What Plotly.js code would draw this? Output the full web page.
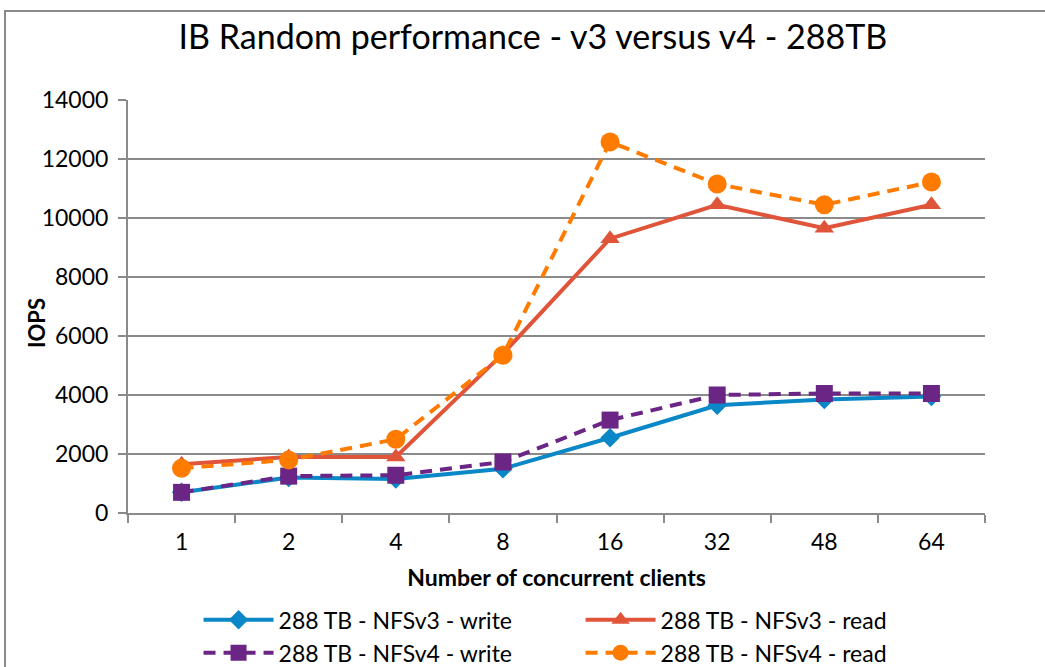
<!DOCTYPE html>
<html><head><meta charset="utf-8">
<script src="https://cdn.plot.ly/plotly-3.0.1.min.js"></script>
<style>html,body{margin:0;padding:0;background:#fff;}#wrap{position:relative;width:1045px;height:667px;}
#frame{position:absolute;left:4px;top:10px;width:1100px;height:700px;border-left:2px solid #8a8a8a;border-top:2px solid #8a8a8a;pointer-events:none;}
#chart{position:absolute;left:0;top:0;width:1045px;height:667px;}</style>
</head><body>
<div id="wrap"><div id="chart"></div><div id="frame"></div></div>
<script>
const categories = ["1","2","4","8","16","32","48","64"];
const nfsv3Write = [700, 1200, 1150, 1500, 2550, 3650, 3850, 3950];
const nfsv3Read  = [1650, 1900, 1900, 5400, 9300, 10450, 9650, 10450];
const nfsv4Write = [700, 1250, 1280, 1730, 3150, 4000, 4050, 4050];
const nfsv4Read  = [1520, 1800, 2500, 5350, 12580, 11150, 10450, 11220];

const font = "Lato, 'Open Sans', sans-serif";
const traces = [
  {x: categories, y: nfsv3Write, name: "288 TB - NFSv3 - write", type: "scatter", mode: "lines+markers",
   line: {color: "#0a87c6", width: 4}, marker: {symbol: "diamond", size: 15, color: "#0a87c6"}},
  {x: categories, y: nfsv3Read, name: "288 TB - NFSv3 - read", type: "scatter", mode: "lines+markers",
   line: {color: "#e0553a", width: 4}, marker: {symbol: "triangle-up", size: 17, color: "#e0553a"}},
  {x: categories, y: nfsv4Write, name: "288 TB - NFSv4 - write", type: "scatter", mode: "lines+markers",
   line: {color: "#6b2585", width: 4, dash: "12px,8px"}, marker: {symbol: "square", size: 17, color: "#6b2585"}},
  {x: categories, y: nfsv4Read, name: "288 TB - NFSv4 - read", type: "scatter", mode: "lines+markers",
   line: {color: "#ff7b00", width: 4, dash: "12px,8px"}, marker: {symbol: "circle", size: 19, color: "#ff7b00"}}
];
const layout = {
  width: 1045, height: 667,
  margin: {l: 128, r: 60, t: 100, b: 154},
  paper_bgcolor: "#fff", plot_bgcolor: "#fff",
  font: {family: font, color: "#000"},
  title: {text: "IB Random performance - v3 versus v4 - 288TB", x: 0.51, xanchor: "center", y: 0.945, yanchor: "middle",
          font: {family: font, size: 34, color: "#000"}},
  xaxis: {type: "category", tickson: "boundaries", ticks: "outside", ticklen: 8, tickcolor: "#8a8a8a", tickwidth: 2,
          showline: true, linecolor: "#8a8a8a", linewidth: 2, showgrid: false, zeroline: false,
          tickfont: {family: font, size: 23}, range: [-0.5, 7.5], ticklabelstandoff: 7,
          title: {text: "<b>Number of concurrent clients</b>", font: {family: font, size: 23}, standoff: 16}},
  yaxis: {range: [0, 14000], dtick: 2000, ticks: "outside", ticklen: 8, tickcolor: "#8a8a8a", tickwidth: 2,
          showline: true, linecolor: "#8a8a8a", linewidth: 2, gridcolor: "#8a8a8a", gridwidth: 2, zeroline: false,
          tickfont: {family: font, size: 23}, tickformat: "d", ticklabelstandoff: 5},
  annotations: [{text: "<b>IOPS</b>", xref: "paper", yref: "paper", x: (36 - 128) / 857, y: 0.46,
                 xanchor: "center", yanchor: "middle", textangle: -90, showarrow: false,
                 font: {family: font, size: 22, color: "#000"}}],
  showlegend: true,
  legend: {orientation: "h", xref: "container", yref: "container", x: 0.19, xanchor: "left", y: 0.103, yanchor: "top",
           entrywidth: 297, entrywidthmode: "pixels", itemwidth: 70, tracegroupgap: 0,
           font: {family: font, size: 23, color: "#000"}, bgcolor: "rgba(0,0,0,0)"}
};
Plotly.newPlot("chart", traces, layout, {displayModeBar: false, staticPlot: true});
</script>
</body></html>
